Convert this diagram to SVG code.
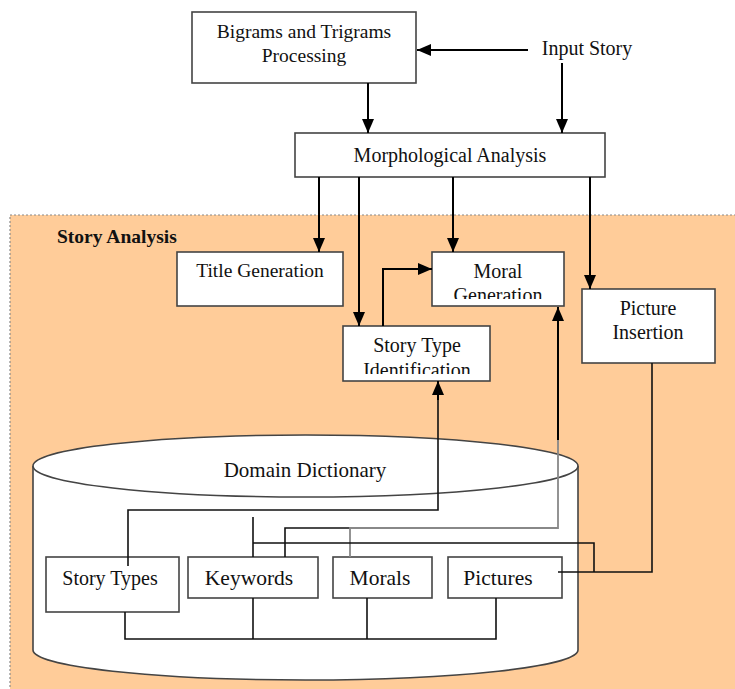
<svg xmlns="http://www.w3.org/2000/svg" width="735" height="689" viewBox="0 0 735 689">
<style>
  .box { fill: #ffffff; stroke: #444; stroke-width: 1.6; }
  .t { font-family: "Liberation Serif", "Times New Roman", serif; fill: #111; text-anchor: middle; }
  .f20 { font-size: 20px; }
  .f21 { font-size: 21.5px; }
  .arrow { fill: none; stroke: #000; stroke-width: 2; }
  .link { fill: none; stroke: #111; stroke-width: 1.6; }
  .glink { fill: none; stroke: #888; stroke-width: 1.8; }
</style>
<defs>
  <marker id="ah" markerUnits="userSpaceOnUse" markerWidth="14" markerHeight="12" refX="14" refY="6" orient="auto">
    <path d="M0,0 L14,6 L0,12 z" fill="#000"/>
  </marker>
  <clipPath id="clipMoral"><rect x="432" y="252" width="132" height="47"/></clipPath>
  <clipPath id="clipType"><rect x="343" y="326" width="147" height="48"/></clipPath>
</defs>

<g id="story-analysis-region">
  <rect x="10" y="215" width="740" height="490" fill="#FFCC99" stroke="#8a8a8a" stroke-width="1.2" stroke-dasharray="2,2"/>
  <text class="t" x="57" y="243" style="text-anchor:start;font-weight:bold;font-size:19.5px">Story Analysis</text>
</g>

<g id="domain-dictionary">
  <path d="M33,466 L33,650 A272.5,30 0 0 0 578,650 L578,466" fill="#fff" stroke="#444" stroke-width="1.6"/>
  <ellipse cx="305.5" cy="466" rx="272.5" ry="31" fill="#fff" stroke="#444" stroke-width="1.6"/>
  <text class="t" x="305" y="477" style="font-size:21px">Domain Dictionary</text>
</g>

<g id="input-story">
  <text class="t f20" x="587" y="55">Input Story</text>
</g>

<g id="bigrams">
  <rect class="box" x="192" y="12" width="224" height="71"/>
  <text class="t" x="304" y="38" style="font-size:19.5px">Bigrams and Trigrams</text>
  <text class="t" x="304" y="62" style="font-size:19.5px">Processing</text>
</g>

<g id="morphological">
  <rect class="box" x="295" y="133" width="310" height="44"/>
  <text class="t f20" x="450" y="162">Morphological Analysis</text>
</g>

<g id="title-generation">
  <rect class="box" x="177" y="252" width="166" height="54"/>
  <text class="t" x="260" y="277" style="font-size:19.5px">Title Generation</text>
</g>

<g id="moral-generation">
  <rect class="box" x="432" y="252" width="132" height="54"/>
  <g clip-path="url(#clipMoral)">
    <text class="t f20" x="498" y="278">Moral</text>
    <text class="t f20" x="498" y="302">Generation</text>
  </g>
</g>

<g id="story-type-identification">
  <rect class="box" x="343" y="326" width="147" height="55"/>
  <g clip-path="url(#clipType)">
    <text class="t f20" x="417" y="352">Story Type</text>
    <text class="t f20" x="417" y="377">Identification</text>
  </g>
</g>

<g id="picture-insertion">
  <rect class="box" x="582" y="289" width="133" height="74"/>
  <text class="t f20" x="648" y="315">Picture</text>
  <text class="t f20" x="648" y="339">Insertion</text>
</g>

<g id="story-types">
  <rect class="box" x="46" y="557" width="133" height="55"/>
  <text class="t" x="110" y="585" style="font-size:20px">Story Types</text>
</g>

<g id="keywords">
  <rect class="box" x="188" y="557" width="130" height="41"/>
  <text class="t f21" x="249" y="585">Keywords</text>
</g>

<g id="morals">
  <rect class="box" x="333" y="557" width="99" height="41"/>
  <text class="t f21" x="380" y="585">Morals</text>
</g>

<g id="pictures">
  <rect class="box" x="448" y="557" width="114" height="41"/>
  <text class="t f21" x="498" y="585">Pictures</text>
</g>

<g id="connectors">
  <!-- top section -->
  <path class="arrow" d="M528,50 L417,50" marker-end="url(#ah)"/>
  <path class="arrow" d="M562,63 L562,133" marker-end="url(#ah)"/>
  <path class="arrow" d="M368,83 L368,133" marker-end="url(#ah)"/>
  <!-- from morphological analysis -->
  <path class="arrow" d="M319,177 L319,252" marker-end="url(#ah)"/>
  <path class="arrow" d="M359,177 L359,326" marker-end="url(#ah)"/>
  <path class="arrow" d="M453,177 L453,252" marker-end="url(#ah)"/>
  <path class="arrow" d="M590,177 L590,289" marker-end="url(#ah)"/>
  <!-- story type to moral -->
  <path class="arrow" d="M383,326 L383,269 L432,269" marker-end="url(#ah)"/>
  <!-- story types -> story type identification -->
  <path class="link" d="M128,566 L128,510 L438,510 L438,395"/>
  <path class="arrow" d="M438,400 L438,381" marker-end="url(#ah)"/>
  <!-- keywords/morals -> moral generation -->
  <path class="link" d="M285,557 L285,528 L350,528"/>
  <path class="glink" d="M350,557 L350,528 L558,528 L558,440"/>
  <path class="arrow" d="M558,440 L558,307" marker-end="url(#ah)"/>
  <!-- keywords/pictures -> picture insertion -->
  <path class="link" d="M253,517 L253,557"/>
  <path class="link" d="M253,543 L594,543 L594,572"/>
  <path class="link" d="M558,572 L652,572 L652,363"/>
  <!-- bottom bus -->
  <path class="link" d="M125,612 L125,639 L496,639 L496,598"/>
  <path class="link" d="M253,598 L253,639"/>
  <path class="link" d="M367,598 L367,639"/>
</g>
</svg>
